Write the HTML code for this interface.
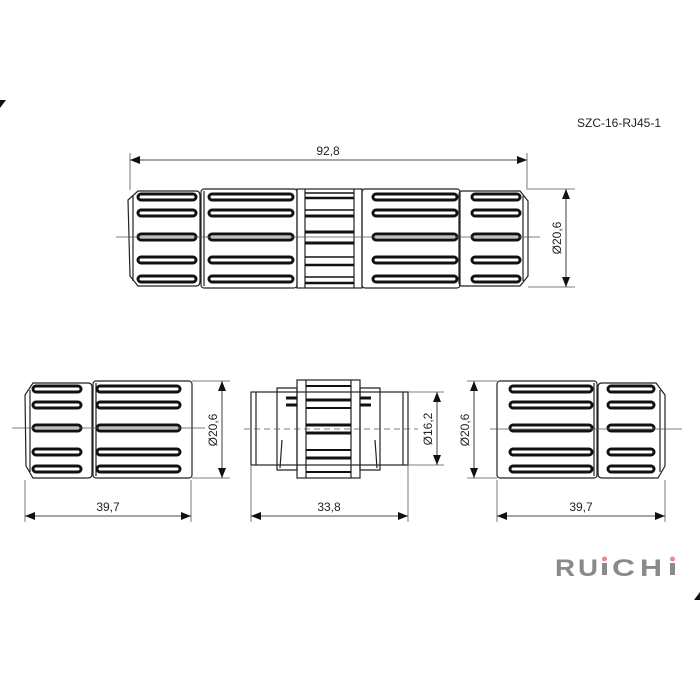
<!DOCTYPE html>
<html><head><style>
html,body{margin:0;padding:0;background:#fff;width:700px;height:700px;overflow:hidden}
svg{display:block}
text{font-family:"Liberation Sans",sans-serif;fill:#222}
</style></head><body>
<svg width="700" height="700" viewBox="0 0 700 700" xmlns="http://www.w3.org/2000/svg">
<defs>
<marker id="a" markerWidth="10" markerHeight="8" refX="10" refY="4" orient="auto-start-reverse" markerUnits="userSpaceOnUse">
<path d="M0,0 L10,4 L0,8 Z" fill="#111"/></marker>
</defs>
<path d="M0,100 L6,100 L0,108 Z" fill="#111"/>
<path d="M700,592 L694,600 L700,600 Z" fill="#111"/>
<text x="577" y="127" font-size="12">SZC-16-RJ45-1</text>

<g fill="none" stroke="#222" stroke-width="1.2">
<path d="M138,191 L196,191 Q200,191 200,196 L200,281 Q200,286 196,286 L138,286 L130,276 L128,200 Z"/>
<line x1="133" y1="196" x2="133" y2="281"/>
<rect x="201" y="189" width="96" height="99" rx="3"/>
<line x1="204" y1="191" x2="204" y2="286"/>
<rect x="297" y="189" width="65" height="99"/>
<line x1="305" y1="189" x2="305" y2="288"/>
<line x1="354" y1="189" x2="354" y2="288"/>
<rect x="362" y="189" width="98" height="99" rx="3"/>
<path d="M462,191 L520,191 L528,201 L528,276 L520,286 L462,286 Q459,286 459,282 L459,195 Q459,191 462,191 Z"/>
<line x1="523" y1="196" x2="523" y2="281"/>
</g>
<g fill="none" stroke="#111" stroke-width="3">
<line x1="305" y1="193" x2="354" y2="193" stroke-width="1.5"/>
<line x1="305" y1="198" x2="354" y2="198" stroke-width="2.5"/>
<line x1="305" y1="210" x2="354" y2="210" stroke-width="1.5"/>
<line x1="305" y1="216" x2="354" y2="216" stroke-width="3"/>
<line x1="305" y1="232" x2="354" y2="232" stroke-width="3"/>
<line x1="305" y1="243" x2="354" y2="243" stroke-width="3"/>
<line x1="305" y1="257" x2="354" y2="257" stroke-width="1.5"/>
<line x1="305" y1="265" x2="354" y2="265" stroke-width="2.5"/>
<line x1="305" y1="277" x2="354" y2="277" stroke-width="1.5"/>
<line x1="305" y1="283" x2="354" y2="283" stroke-width="2.5"/>
</g>
<g fill="none" stroke="#111" stroke-width="3">
<rect x="138" y="194" width="58" height="6" rx="3"/>
<rect x="138" y="210" width="58" height="6" rx="3"/>
<rect x="138" y="234" width="58" height="6" rx="3"/>
<rect x="138" y="257" width="58" height="6" rx="3"/>
<rect x="138" y="276" width="58" height="6" rx="3"/>
<rect x="209" y="194" width="84" height="6" rx="3"/>
<rect x="209" y="210" width="84" height="6" rx="3"/>
<rect x="209" y="234" width="84" height="6" rx="3"/>
<rect x="209" y="257" width="84" height="6" rx="3"/>
<rect x="209" y="276" width="84" height="6" rx="3"/>
<rect x="373" y="194" width="84" height="6" rx="3"/>
<rect x="373" y="210" width="84" height="6" rx="3"/>
<rect x="373" y="234" width="84" height="6" rx="3"/>
<rect x="373" y="257" width="84" height="6" rx="3"/>
<rect x="373" y="276" width="84" height="6" rx="3"/>
<rect x="472" y="194" width="48" height="6" rx="3"/>
<rect x="472" y="210" width="48" height="6" rx="3"/>
<rect x="472" y="234" width="48" height="6" rx="3"/>
<rect x="472" y="257" width="48" height="6" rx="3"/>
<rect x="472" y="276" width="48" height="6" rx="3"/>
</g>
<g stroke="#555" stroke-width="0.8" fill="none">
<line x1="116" y1="237" x2="540" y2="237"/>
<line x1="130" y1="153" x2="130" y2="190"/>
<line x1="527" y1="153" x2="527" y2="190"/>
<line x1="528" y1="189" x2="575" y2="189"/>
<line x1="528" y1="287" x2="575" y2="287"/>
</g>
<g stroke="#111" stroke-width="0.8">
<line x1="130" y1="160" x2="527" y2="160" marker-start="url(#a)" marker-end="url(#a)"/>
<line x1="566" y1="189" x2="566" y2="287" marker-start="url(#a)" marker-end="url(#a)"/>
</g>
<text x="328" y="155" font-size="12" text-anchor="middle">92,8</text>
<text transform="translate(561,238) rotate(-90)" font-size="12" text-anchor="middle">Ø20,6</text>

<g fill="none" stroke="#222" stroke-width="1.2">
<path d="M33,383 L88,383 Q92,383 92,387 L92,474 Q92,478 88,478 L33,478 L26,466 L25,395 Z"/>
<line x1="30" y1="390" x2="30" y2="472"/>
<rect x="93" y="381" width="99" height="97" rx="3"/>
<line x1="96" y1="383" x2="96" y2="476"/>
</g>
<g fill="none" stroke="#111" stroke-width="3">
<rect x="33" y="386" width="48" height="6" rx="3"/><rect x="33" y="402" width="48" height="6" rx="3"/><rect x="33" y="425" width="48" height="6" rx="3"/><rect x="33" y="449" width="48" height="6" rx="3"/><rect x="33" y="466" width="48" height="6" rx="3"/>
<rect x="97" y="386" width="83" height="6" rx="3"/><rect x="97" y="402" width="83" height="6" rx="3"/><rect x="97" y="425" width="83" height="6" rx="3"/><rect x="97" y="449" width="83" height="6" rx="3"/><rect x="97" y="466" width="83" height="6" rx="3"/>
</g>
<g stroke="#555" stroke-width="0.8" fill="none">
<line x1="12" y1="428" x2="205" y2="428"/>
<line x1="25" y1="480" x2="25" y2="522"/>
<line x1="191" y1="480" x2="191" y2="522"/>
<line x1="192" y1="381" x2="230" y2="381"/>
<line x1="192" y1="478" x2="230" y2="478"/>
</g>
<g stroke="#111" stroke-width="0.8">
<line x1="25" y1="516" x2="191" y2="516" marker-start="url(#a)" marker-end="url(#a)"/>
<line x1="222" y1="381" x2="222" y2="478" marker-start="url(#a)" marker-end="url(#a)"/>
</g>
<text x="108" y="511" font-size="12" text-anchor="middle">39,7</text>
<text transform="translate(217,430) rotate(-90)" font-size="12" text-anchor="middle">Ø20,6</text>

<g fill="none" stroke="#222" stroke-width="1.2">
<rect x="251" y="392" width="157" height="73"/>
<line x1="256" y1="392" x2="256" y2="465"/>
<line x1="403" y1="392" x2="403" y2="465"/>
<path d="M277,388 L297,388 L297,470 L277,470 Z"/>
<path d="M360,388 L380,388 L380,470 L360,470 Z"/>
<path d="M282,440 L280,468 M375,440 L377,468"/>
<rect x="297" y="380" width="63" height="98"/>
<line x1="306" y1="380" x2="306" y2="478"/>
<line x1="351" y1="380" x2="351" y2="478"/>
</g>
<g stroke="#111" fill="none">
<line x1="306" y1="386" x2="351" y2="386" stroke-width="2"/>
<line x1="306" y1="400" x2="351" y2="400" stroke-width="3"/>
<line x1="306" y1="408" x2="351" y2="408" stroke-width="2"/>
<line x1="306" y1="425" x2="351" y2="425" stroke-width="3"/>
<line x1="306" y1="433" x2="351" y2="433" stroke-width="3"/>
<line x1="306" y1="450" x2="351" y2="450" stroke-width="2"/>
<line x1="306" y1="458" x2="351" y2="458" stroke-width="3"/>
<line x1="306" y1="472" x2="351" y2="472" stroke-width="2"/>
<line x1="286" y1="398" x2="297" y2="398" stroke-width="3"/>
<line x1="286" y1="405" x2="297" y2="405" stroke-width="3"/>
<line x1="360" y1="398" x2="371" y2="398" stroke-width="3"/>
<line x1="360" y1="405" x2="371" y2="405" stroke-width="3"/>
</g>
<g stroke="#555" stroke-width="0.8" fill="none">
<line x1="244" y1="429" x2="418" y2="429" stroke-dasharray="6,4"/>
<line x1="251" y1="466" x2="251" y2="522"/>
<line x1="408" y1="466" x2="408" y2="522"/>
<line x1="408" y1="392" x2="444" y2="392"/>
<line x1="408" y1="465" x2="444" y2="465"/>
</g>
<g stroke="#111" stroke-width="0.8">
<line x1="251" y1="516" x2="408" y2="516" marker-start="url(#a)" marker-end="url(#a)"/>
<line x1="437" y1="392" x2="437" y2="465" marker-start="url(#a)" marker-end="url(#a)"/>
</g>
<text x="329" y="511" font-size="12" text-anchor="middle">33,8</text>
<text transform="translate(432,429) rotate(-90)" font-size="12" text-anchor="middle">Ø16,2</text>

<g fill="none" stroke="#222" stroke-width="1.2">
<rect x="497" y="381" width="100" height="97" rx="3"/>
<line x1="594" y1="383" x2="594" y2="476"/>
<path d="M602,383 L656,383 L665,395 L665,466 L658,478 L602,478 Q598,478 598,474 L598,387 Q598,383 602,383 Z"/>
<line x1="660" y1="390" x2="660" y2="472"/>
</g>
<g fill="none" stroke="#111" stroke-width="3">
<rect x="510" y="386" width="82" height="6" rx="3"/><rect x="510" y="402" width="82" height="6" rx="3"/><rect x="510" y="425" width="82" height="6" rx="3"/><rect x="510" y="449" width="82" height="6" rx="3"/><rect x="510" y="466" width="82" height="6" rx="3"/>
<rect x="608" y="386" width="46" height="6" rx="3"/><rect x="608" y="402" width="46" height="6" rx="3"/><rect x="608" y="425" width="46" height="6" rx="3"/><rect x="608" y="449" width="46" height="6" rx="3"/><rect x="608" y="466" width="46" height="6" rx="3"/>
</g>
<g stroke="#555" stroke-width="0.8" fill="none">
<line x1="490" y1="429" x2="682" y2="429"/>
<line x1="497" y1="480" x2="497" y2="522"/>
<line x1="665" y1="480" x2="665" y2="522"/>
<line x1="467" y1="381" x2="497" y2="381"/>
<line x1="467" y1="478" x2="497" y2="478"/>
</g>
<g stroke="#111" stroke-width="0.8">
<line x1="497" y1="516" x2="665" y2="516" marker-start="url(#a)" marker-end="url(#a)"/>
<line x1="474" y1="381" x2="474" y2="478" marker-start="url(#a)" marker-end="url(#a)"/>
</g>
<text x="581" y="511" font-size="12" text-anchor="middle">39,7</text>
<text transform="translate(469,430) rotate(-90)" font-size="12" text-anchor="middle">Ø20,6</text>

<!-- logo -->
<g font-size="24" font-weight="bold">
<text x="555" y="576" textLength="20" lengthAdjust="spacingAndGlyphs" style="fill:#8a8a8a">R</text>
<text x="578" y="576" textLength="20" lengthAdjust="spacingAndGlyphs" style="fill:#8a8a8a">U</text>
<text x="612" y="576" textLength="23" lengthAdjust="spacingAndGlyphs" style="fill:#8a8a8a">C</text>
<text x="640" y="576" textLength="22" lengthAdjust="spacingAndGlyphs" style="fill:#8a8a8a">H</text>
</g>
<rect x="602" y="563" width="5" height="12" fill="#8a8a8a"/>
<rect x="670" y="563" width="5" height="12" fill="#8a8a8a"/>
<circle cx="604.5" cy="559" r="2.5" fill="#f08a8a"/>
<circle cx="672.5" cy="559" r="2.5" fill="#f08a8a"/>
</svg>
</body></html>
